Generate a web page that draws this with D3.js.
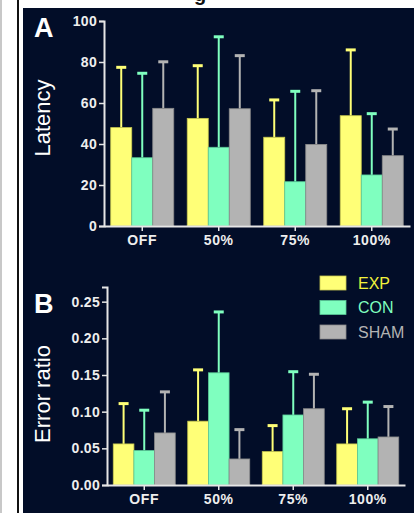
<!DOCTYPE html>
<html>
<head>
<meta charset="utf-8">
<script src="https://cdn.jsdelivr.net/npm/d3@7"></script>
<style>
  html, body { margin: 0; padding: 0; background: #fff; }
  svg { display: block; font-family: "Liberation Sans", Arial, sans-serif; }
</style>
</head>
<body>
<div id="chart"></div>
<script>
// categories / series
const categories = ["OFF", "50%", "75%", "100%"];
const series = ["EXP", "CON", "SHAM"];

// panel A: latency (mean, upper SD)
const latExp = [48, 52.5, 43.3, 53.8];
const latExpSd = [29.4, 25.7, 18.2, 32.1];
const latCon = [33.3, 38.4, 21.6, 24.9];
const latConSd = [41.2, 53.9, 44.1, 29.9];
const latSham = [57.4, 57.2, 39.8, 34.3];
const latShamSd = [22.7, 25.9, 26.2, 13];
const latTicks = [0, 20, 40, 60, 80, 100];

// panel B: error ratio
const errExp = [0.056, 0.087, 0.0455, 0.056];
const errExpSd = [0.055, 0.070, 0.0355, 0.048];
const errCon = [0.047, 0.153, 0.0955, 0.063];
const errConSd = [0.055, 0.083, 0.059, 0.050];
const errSham = [0.071, 0.0355, 0.104, 0.0655];
const errShamSd = [0.056, 0.040, 0.047, 0.0415];
const errTicks = [0, 0.05, 0.10, 0.15, 0.20, 0.25];

const fills = { EXP: "#ffff77", CON: "#7fffbf", SHAM: "#b3b3b3" };
const strokes = { EXP: "#c8c850", CON: "#5ac896", SHAM: "#8a8a8a" };
const legendText = { EXP: "#f2f23c", CON: "#7fffbf", SHAM: "#b3b3b3" };

const width = 414, height = 513;

const svg = d3.select("#chart").append("svg")
    .attr("width", width)
    .attr("height", height);

// page frame
svg.append("rect").attr("x", 0).attr("y", 0).attr("width", 2).attr("height", height).attr("fill", "#c8c8c8");
svg.append("rect").attr("x", 17).attr("y", 0).attr("width", 2).attr("height", height).attr("fill", "#111");
svg.append("rect").attr("x", 23).attr("y", 8).attr("width", width - 23).attr("height", height - 8).attr("fill", "#020d28");
svg.append("text").attr("x", 194).attr("y", 1).attr("font-size", 20).attr("font-weight", "bold")
    .attr("fill", "#111").text("g");

function panel(opts) {
  const g = svg.append("g");
  const x = d3.scaleBand().domain(categories)
      .range([opts.x0, opts.x1]).paddingInner(opts.pad).paddingOuter(opts.pad / 2);
  const xs = d3.scaleBand().domain(series).range([0, x.bandwidth()]);
  const y = d3.scaleLinear().domain(opts.domain).range([opts.yBottom, opts.yTop]);

  const rows = [];
  categories.forEach((c, i) => {
    series.forEach((s, j) => {
      rows.push({ cat: c, ser: s, v: opts.means[j][i], sd: opts.sds[j][i] });
    });
  });

  // error bars (upper only)
  const eb = g.selectAll(".eb").data(rows).enter().append("g");
  const cx = d => x(d.cat) + xs(d.ser) + xs.bandwidth() / 2;
  eb.append("line")
      .attr("x1", cx).attr("x2", cx)
      .attr("y1", d => y(d.v)).attr("y2", d => y(d.v + d.sd))
      .attr("stroke", d => fills[d.ser]).attr("stroke-width", 2);
  eb.append("line")
      .attr("x1", d => cx(d) - 5).attr("x2", d => cx(d) + 5)
      .attr("y1", d => y(d.v + d.sd)).attr("y2", d => y(d.v + d.sd))
      .attr("stroke", d => fills[d.ser]).attr("stroke-width", 3);

  // bars
  g.selectAll(".bar").data(rows).enter().append("rect")
      .attr("x", d => x(d.cat) + xs(d.ser))
      .attr("y", d => y(d.v))
      .attr("width", xs.bandwidth())
      .attr("height", d => y(0) - y(d.v))
      .attr("fill", d => fills[d.ser])
      .attr("stroke", d => strokes[d.ser])
      .attr("stroke-width", 0.8);

  // y axis
  const yAxis = g.append("g")
      .attr("transform", "translate(" + opts.x0 + ",0)")
      .call(d3.axisLeft(y).tickValues(opts.ticks).tickFormat(opts.fmt).tickSize(5).tickPadding(2));
  // x axis
  const xAxis = g.append("g")
      .attr("transform", "translate(0," + opts.yBottom + ")")
      .call(d3.axisBottom(x).tickSize(5).tickPadding(4).tickSizeOuter(0));

  [yAxis, xAxis].forEach(a => {
    a.select(".domain").attr("stroke", "#e6e6e6").attr("stroke-width", 2);
    a.selectAll(".tick line").attr("stroke", "#e6e6e6").attr("stroke-width", 1.5);
    a.selectAll("text").attr("fill", "#eeeeee").attr("font-weight", "bold")
        .attr("font-family", "Liberation Sans, Arial, sans-serif");
  });
  yAxis.selectAll("text").attr("font-size", 14).attr("letter-spacing", 0.3);
  xAxis.selectAll("text").attr("font-size", 14).attr("letter-spacing", 0.6);

  // panel letter
  svg.append("text").attr("x", 34).attr("y", opts.letterY)
      .attr("fill", "#fff").attr("font-size", 27).attr("font-weight", "bold")
      .text(opts.letter);
  // y label
  svg.append("text")
      .attr("transform", "translate(50," + opts.labelY + ") rotate(-90)")
      .attr("text-anchor", "middle")
      .attr("fill", "#fff").attr("font-size", 22)
      .text(opts.label);
}

panel({
  x0: 104, x1: 410, pad: 0.176, yBottom: 226, yTop: 21, domain: [0, 100],
  means: [latExp, latCon, latSham], sds: [latExpSd, latConSd, latShamSd],
  ticks: latTicks, fmt: d3.format("d"),
  letter: "A", letterY: 37, label: "Latency", labelY: 118
});

panel({
  x0: 107, x1: 405, pad: 0.168, yBottom: 485, yTop: 287, domain: [0, 0.27],
  means: [errExp, errCon, errSham], sds: [errExpSd, errConSd, errShamSd],
  ticks: errTicks, fmt: d3.format(".2f"),
  letter: "B", letterY: 313, label: "Error ratio", labelY: 394
});

// legend
const legend = svg.append("g").attr("transform", "translate(320,276)");
const li = legend.selectAll("g").data(series).enter().append("g")
    .attr("transform", (d, i) => "translate(0," + i * 24.5 + ")");
li.append("rect").attr("width", 26).attr("height", 14)
    .attr("fill", d => fills[d]).attr("stroke", d => strokes[d]).attr("stroke-width", 0.8);
li.append("text").attr("x", 38).attr("y", 7).attr("dy", "0.36em")
    .attr("font-size", 16).attr("fill", d => legendText[d]).text(d => d);
</script>
</body>
</html>
